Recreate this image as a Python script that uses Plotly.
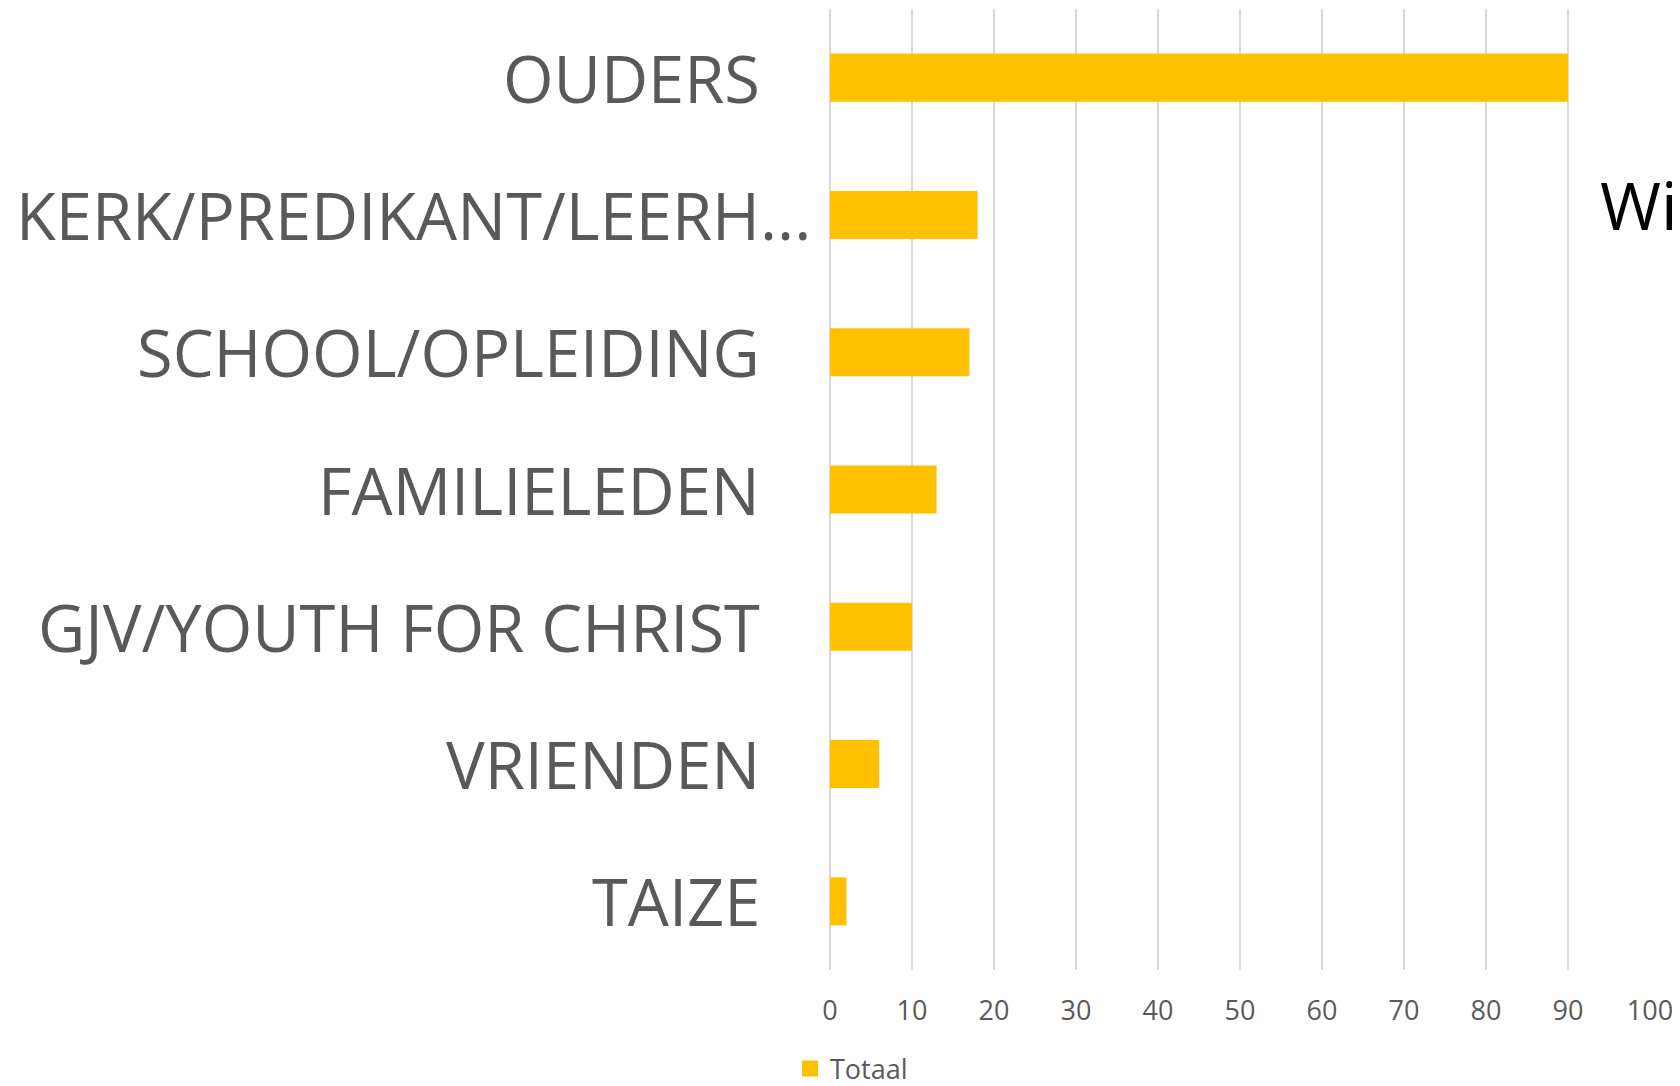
import plotly.graph_objects as go

categories = ["OUDERS", "KERK/PREDIKANT/LEERH...", "SCHOOL/OPLEIDING", "FAMILIELEDEN",
              "GJV/YOUTH FOR CHRIST", "VRIENDEN", "TAIZE"]
values = [90, 18, 17, 13, 10, 6, 2]
series_name = "Totaal"
x_ticks = [0, 10, 20, 30, 40, 50, 60, 70, 80, 90, 100]
title_text = "Wi"

FONT = "Open Sans"
GREY = "#595959"
BAR = "#FFC000"

# page body has an 8px margin; figure is sized to fit the 1680x1086 window
W, H = 1672, 1078
OFF = 8
L, R, T, B = 830 - OFF, 1680 - 1650, 9 - OFF, 1086 - 970

fig = go.Figure()
fig.add_trace(go.Bar(
    y=categories, x=values, orientation="h", name=series_name,
    marker=dict(color=BAR, line=dict(width=0)),
    showlegend=False,
))
# legend entry with a larger square swatch
fig.add_trace(go.Scatter(
    x=[None], y=[None], mode="markers", name=series_name,
    marker=dict(symbol="square", size=17, color=BAR), showlegend=True,
))

for c in categories:
    shift = -17 if c.endswith("...") else -68
    fig.add_annotation(
        x=0, xref="paper", y=c, yref="y", text=c, showarrow=False,
        xanchor="right", yanchor="middle", xshift=shift,
        font=dict(family=FONT, size=65, color=GREY),
    )

pw = W - L - R
ph = H - T - B
fig.add_annotation(
    x=(1598 - OFF - L) / pw, xref="paper",
    y=1 - (204 - OFF - T) / ph, yref="paper",
    text=title_text, showarrow=False, xanchor="left", yanchor="middle",
    font=dict(family=FONT, size=66, color="black"),
)

fig.update_layout(
    width=W, height=H,
    margin=dict(l=L, r=R, t=T, b=B, pad=0),
    paper_bgcolor="white", plot_bgcolor="white",
    bargap=0.65,
    font=dict(family=FONT, color=GREY),
    legend=dict(
        orientation="h", xref="container", yref="container",
        x=(790 - OFF) / W, y=17 / H, xanchor="left", yanchor="middle",
        font=dict(family=FONT, size=27, color=GREY),
        bgcolor="rgba(0,0,0,0)",
    ),
    xaxis=dict(
        range=[0, 100], tickvals=x_ticks, showgrid=True, gridcolor="#D9D9D9", gridwidth=1.5,
        zeroline=True, zerolinecolor="#D9D9D9", zerolinewidth=1.5, showline=False,
        tickfont=dict(family=FONT, size=27, color=GREY), ticks="", ticklabelstandoff=22,
        fixedrange=True,
    ),
    yaxis=dict(
        categoryorder="array", categoryarray=categories, autorange="reversed",
        showticklabels=False, showgrid=False, zeroline=False, showline=False, ticks="",
        fixedrange=True,
    ),
)

fig.write_html("out.html")
